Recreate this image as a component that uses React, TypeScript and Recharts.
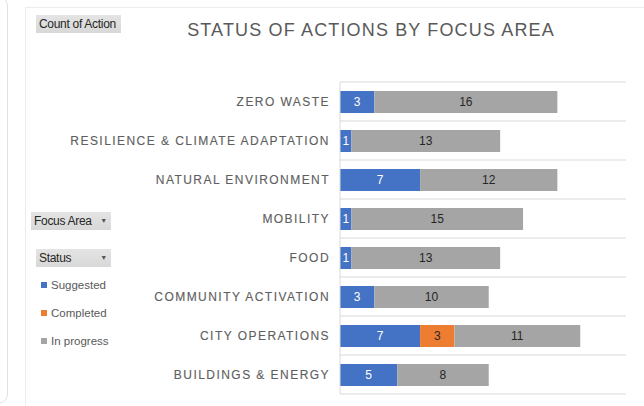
import React from "react";
import {
  BarChart,
  Bar,
  XAxis,
  YAxis,
  CartesianGrid,
  LabelList,
  Legend,
} from "recharts";

const focusAreas = [
  "ZERO WASTE",
  "RESILIENCE & CLIMATE ADAPTATION",
  "NATURAL ENVIRONMENT",
  "MOBILITY",
  "FOOD",
  "COMMUNITY ACTIVATION",
  "CITY OPERATIONS",
  "BUILDINGS & ENERGY",
];
const suggested = [3, 1, 7, 1, 1, 3, 7, 5];
const completed = [0, 0, 0, 0, 0, 0, 3, 0];
const inProgress = [16, 13, 12, 15, 13, 10, 11, 8];

const statusKeys = ["suggested", "completed", "inProgress"];
const statusNames = ["Suggested", "Completed", "In progress"];
const statusColors = ["#4472C4", "#ED7D31", "#A5A5A5"];
const labelColors = ["#ffffff", "#262626", "#262626"];

const data = focusAreas.map((area, i) => ({
  area,
  suggested: suggested[i],
  completed: completed[i],
  inProgress: inProgress[i],
}));

const FONT = "'Liberation Sans', Arial, sans-serif";

const CategoryTick = (props: any) => {
  const { x, y, payload } = props;
  return (
    <text
      x={x - 2}
      y={y}
      dy={4}
      textAnchor="end"
      fill="#5f5f5f"
      stroke="#5f5f5f"
      strokeWidth={0.15}
      fontSize={12}
      letterSpacing={1.45}
      fontFamily={FONT}
    >
      {payload.value}
    </text>
  );
};

const StatusLegend = (props: any) => {
  const items = [...(props.payload || [])].sort(
    (a: any, b: any) => statusNames.indexOf(a.value) - statusNames.indexOf(b.value)
  );
  return (
    <div style={{ fontFamily: FONT, fontSize: 11.5, color: "#595959" }}>
      {items.map((it: any) => (
        <div
          key={it.value}
          style={{ display: "flex", alignItems: "center", height: 28 }}
        >
          <span
            style={{
              width: 6,
              height: 6,
              background: it.color,
              marginRight: 4,
              display: "inline-block",
            }}
          />
          {it.value}
        </div>
      ))}
    </div>
  );
};

const boxStyle: any = {
  position: "absolute",
  height: 18,
  background: "linear-gradient(#e4e4e4, #d8d8d8)",
  fontFamily: FONT,
  fontSize: 12,
  color: "#262626",
  lineHeight: "18px",
  paddingLeft: 3,
  boxSizing: "border-box",
  whiteSpace: "nowrap",
  letterSpacing: -0.3,
};

const Button = ({ left, top, width, text }: any) => (
  <div style={{ ...boxStyle, left, top, width }}>{text}</div>
);

const Dropdown = ({ left, top, width, text }: any) => (
  <div style={{ ...boxStyle, left, top, width }}>
    {text}
    <span
      style={{
        position: "absolute",
        right: 4,
        top: 0,
        fontSize: 7,
        color: "#555",
      }}
    >
      ▼
    </span>
  </div>
);

export default function App() {
  return (
    <div
      style={{
        position: "absolute",
        left: 0,
        top: 0,
        width: 644,
        height: 406,
        background: "#fff",
        overflow: "hidden",
      }}
    >
      <div
        style={{
          position: "absolute",
          left: -20,
          top: -4,
          width: 26,
          height: 406,
          border: "1px solid #e2e2e2",
          borderRadius: 10,
        }}
      />
      <div
        style={{
          position: "absolute",
          left: 25,
          top: 7,
          width: 660,
          height: 440,
          border: "1px solid #ececec",
        }}
      />
      <div
        style={{
          position: "absolute",
          left: 0,
          top: 20,
          width: 644,
          textAlign: "center",
          paddingLeft: 98,
          boxSizing: "border-box",
          fontFamily: FONT,
          fontSize: 18,
          letterSpacing: 1.15,
          color: "#595959",
        }}
      >
        STATUS OF ACTIONS BY FOCUS AREA
      </div>
      <Button left={36} top={15} width={85} text="Count of Action" />
      <Dropdown left={31} top={212} width={80} text="Focus Area" />
      <Dropdown left={36} top={249} width={75} text="Status" />
      <div style={{ position: "absolute", left: 0, top: 0 }}>
        <BarChart
          width={644}
          height={406}
          data={data}
          layout="vertical"
          margin={{ top: 82, right: 18, bottom: 12, left: 0 }}
          barSize={22}
        >
          <CartesianGrid
            vertical={false}
            stroke="#d9d9d9"
            horizontalCoordinatesGenerator={({ offset }: any) =>
              Array.from(
                { length: focusAreas.length + 1 },
                (_, i) => offset.top + (i * offset.height) / focusAreas.length
              )
            }
          />
          <XAxis type="number" domain={[0, 25]} hide />
          <YAxis
            type="category"
            dataKey="area"
            width={340}
            tickLine={false}
            axisLine={{ stroke: "#d9d9d9" }}
            tick={<CategoryTick />}
            interval={0}
          />
          <Legend
            layout="horizontal"
            verticalAlign="middle"
            align="center"
            content={<StatusLegend />}
            wrapperStyle={{ left: 41, top: 271, width: 80, height: 90 }}
          />
          {statusKeys.map((key, i) => (
            <Bar
              key={key}
              dataKey={key}
              name={statusNames[i]}
              stackId="status"
              fill={statusColors[i]}
              isAnimationActive={false}
            >
              <LabelList
                dataKey={key}
                position="center"
                fill={labelColors[i]}
                fontSize={12}
                fontFamily={FONT}
                formatter={(v: any) => (v ? v : "")}
              />
            </Bar>
          ))}
        </BarChart>
      </div>
    </div>
  );
}
